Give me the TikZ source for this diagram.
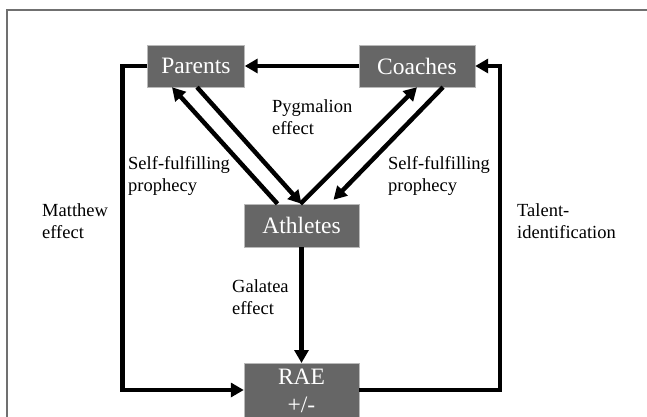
\documentclass[tikz,border=0pt]{standalone}
\usepackage{fontspec}
\setmainfont{Liberation Serif}
\usetikzlibrary{arrows.meta}
\definecolor{boxgray}{RGB}{102,102,102}
\definecolor{framegray}{RGB}{112,112,112}
\begin{document}
\begin{tikzpicture}[x=1pt,y=-1pt]
	\useasboundingbox (0,0) rectangle (647,417);
	\clip (0,0) rectangle (647,417);
	\draw [framegray,line width=1.2pt] (647,10) -- (7,10) -- (7,417);

	\begin{scope}[every node/.style={draw=gray!55,fill=boxgray,text=white,inner sep=0pt,minimum height=42pt,font=\fontsize{23.5}{28}\selectfont}]
		\node [minimum width=97pt] (P) at (196,66) {Parents};
		\node [minimum width=116pt] (C) at (417,66) {Coaches};
		\node [minimum width=115pt,minimum height=43pt] (A) at (301.5,225.5) {Athletes};
		\node [minimum width=115pt,anchor=north,align=center,inner ysep=6pt,text depth=12pt] (R) at (301.5,363) {RAE\\+/-};
	\end{scope}

	\begin{scope}[every node/.style={align=left,anchor=west,inner sep=0pt,font=\fontsize{18.5}{22}\selectfont},
		every edge/.style={draw=black,line width=4.5pt}]
		\path [-{Triangle[length=13pt,width=14pt]}] (C.west) edge (P.east);
		\path [-{Triangle[length=13pt,width=14pt]}] ([xshift=-24pt]A.north) edge ([xshift=-24pt]P.south);
		\path [-{Triangle[length=13pt,width=14pt]}] ([xshift=1pt]P.south) edge (A.north);
		\path [-{Triangle[length=13pt,width=14pt]}] ([xshift=-1pt]A.north) edge (C.south);
		\path [-{Triangle[length=13pt,width=14pt]}] ([xshift=26pt]C.south) edge ([xshift=32pt,yshift=4pt]A.north);
		\path [-{Triangle[length=13pt,width=14pt]}] (A.south) edge (R.north);
		\draw [line width=4.5pt,-{Triangle[length=13pt,width=14pt]}] (P.west) -- ++(-25,0) |- ([yshift=-27pt]R.north west);
		\draw [line width=4.5pt,-{Triangle[length=13pt,width=14pt]}] ([yshift=-27pt]R.north east) -| ([xshift=25pt]C.east) -- (C.east);

		\node (pyg) at (272,117.5) {Pygmalion\\effect};
		\node (sfl) at (128,176) {Self-fulfilling\\prophecy};
		\node (sfr) at (388,176) {Self-fulfilling\\prophecy};
		\node (mat) at (42,221) {Matthew\\effect};
		\node (tal) at (517,221) {Talent-\\identification};
		\node (gal) at (232,297) {Galatea\\effect};
	\end{scope}
\end{tikzpicture}
\end{document}
